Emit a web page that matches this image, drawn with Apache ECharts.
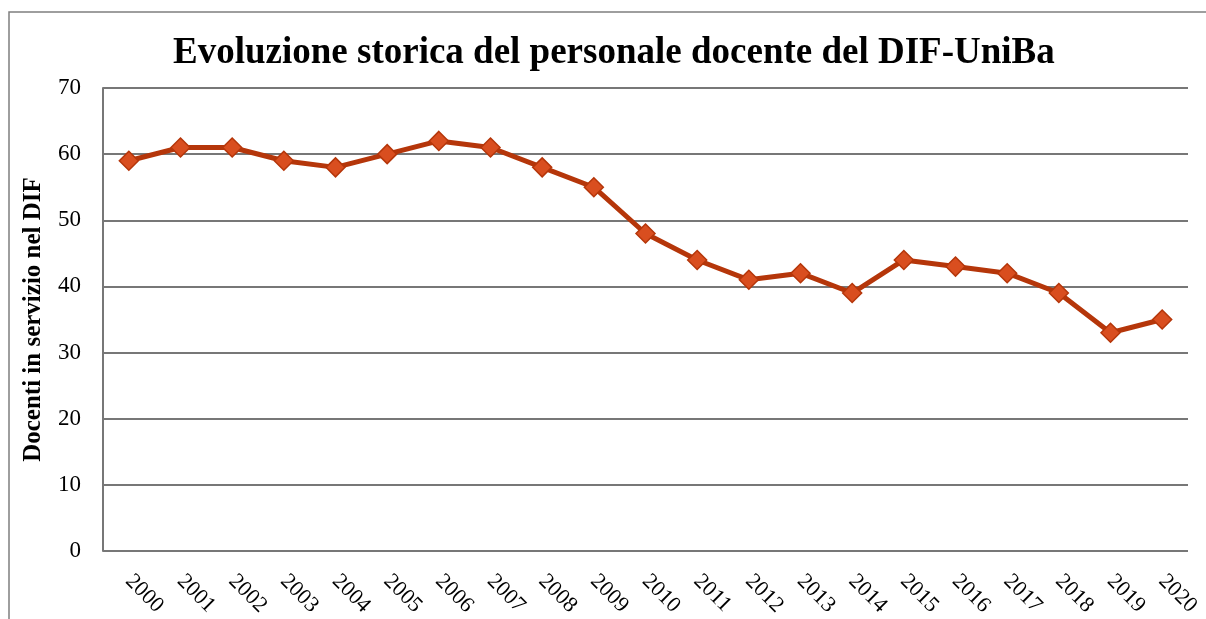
<!DOCTYPE html>
<html><head><meta charset="utf-8">
<script src="https://cdn.jsdelivr.net/npm/echarts@6/dist/echarts.min.js"></script>
<style>html,body{margin:0;padding:0;background:#fff}#c{width:1206px;height:619px}</style>
</head><body><div id="c"></div>
<script>
const years = ['2000','2001','2002','2003','2004','2005','2006','2007','2008','2009','2010','2011','2012','2013','2014','2015','2016','2017','2018','2019','2020'];
const docenti = [59,61,61,59,58,60,62,61,58,55,48,44,41,42,39,44,43,42,39,33,35];
const yTicks = {min:0, max:70, interval:10};
const titleText = 'Evoluzione storica del personale docente del DIF-UniBa';
const yName = 'Docenti in servizio nel DIF';

const font = '"Liberation Serif", "DejaVu Serif", serif';
const chart = echarts.init(document.getElementById('c'));
chart.setOption({
  animation:false,
  backgroundColor:'#fff',
  graphic:[{type:'rect', shape:{x:9, y:12, width:1220, height:630}, style:{fill:'none', stroke:'#7f7f7f', lineWidth:1.5}, z:-1}],
  title:{text:titleText, left:168, top:30, textStyle:{fontFamily:font, fontSize:37, fontWeight:'bold', color:'#000'}},
  grid:{left:103, right:18, top:88, bottom:68, containLabel:false},
  xAxis:{type:'category', data:years, boundaryGap:true,
    axisLine:{show:false}, axisTick:{show:false},
    axisLabel:{rotate:-45, fontFamily:font, fontSize:22, color:'#000', margin:27, interval:0}},
  yAxis:{type:'value', min:yTicks.min, max:yTicks.max, interval:yTicks.interval,
    name:yName, nameLocation:'middle', nameGap:57, nameRotate:90,
    nameTextStyle:{fontFamily:font, fontSize:25, fontWeight:'bold', color:'#000'},
    axisLine:{show:true, lineStyle:{color:'#777', width:2}}, axisTick:{show:false},
    axisLabel:{fontFamily:font, fontSize:23, color:'#000', margin:22},
    splitLine:{show:true, lineStyle:{color:'#777', width:2}}},
  series:[{type:'line', data:docenti, symbol:'diamond', symbolSize:19,
    lineStyle:{color:'#B5360A', width:5},
    itemStyle:{color:'#D94E1F', borderColor:'#B5360A', borderWidth:1.5}}]
});
</script></body></html>
